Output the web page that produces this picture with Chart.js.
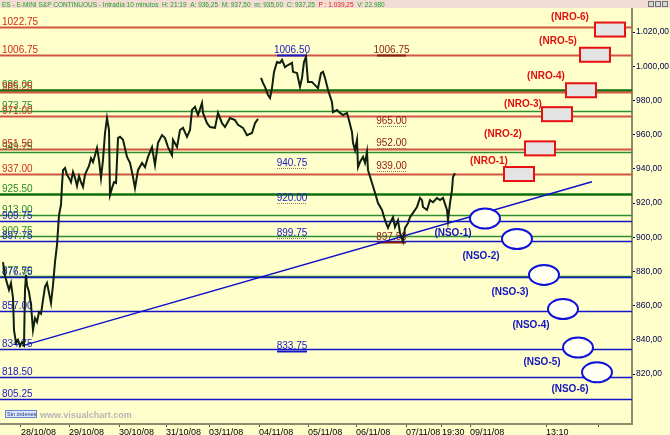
<!DOCTYPE html>
<html>
<head>
<meta charset="utf-8">
<script src="https://cdn.jsdelivr.net/npm/chart.js@4.4.0/dist/chart.umd.min.js"></script>
<style>
  html, body { margin: 0; padding: 0; background: #ffffcc; }
  #wrap { width: 670px; height: 435px; }
</style>
</head>
<body>
<div id="wrap"><canvas id="esChart" width="670" height="435"></canvas></div>
<script>
// 10 minute bars, x = bar slot on the time axis
const bars = [
  3, 5, 7, 9, 11, 13, 14, 16, 18, 20,
  22, 24, 25, 26, 27, 29, 31, 33, 35, 37,
  39, 41, 43, 45, 47, 49, 51, 53, 55, 57,
  59, 61, 62, 63, 65, 67, 69, 71, 73, 75,
  77, 79, 81, 83, 85, 87, 89, 91, 93, 95,
  97, 99, 101, 103, 105, 107, 109, 110, 112, 114,
  116, 118, 120, 123, 127, 130, 133, 135, 138, 142,
  145, 148, 152, 155, 158, 162, 165, 168, 172, 173,
  177, 180, 183, 187, 190, 192, 195, 198, 202, 203,
  207, 210, 215, 218, 222, 225, 230, 235, 238, 243,
  247, 252, 255, 258, 259.5,
  261, 263, 265, 268, 270, 272, 274, 277, 280, 282,
  285, 288, 292, 293, 297, 300, 302, 304, 306, 308,
  312, 315, 318, 321, 323, 325, 328, 332, 333, 337,
  340, 343, 347, 349, 352, 353, 355, 357, 358, 360,
  363, 365, 367, 368, 372, 375, 378, 382, 385, 388,
  390, 393, 395, 398, 400, 403, 405, 408, 410, 413,
  417, 420, 422, 423, 427, 430, 433, 437, 440, 443,
  447, 448, 450, 452, 453, 455
];
const closes = [
  885.5, 877.5, 873.25, 869.25, 873.25, 864.5, 845.75, 838.25, 840, 836.5,
  838.75, 837, 869.25, 878, 872, 868, 860.5, 845.75, 852.75, 850.5,
  856.25, 855.25, 863.25, 871, 873.25, 867.5, 861.5, 872, 885.5, 895.5,
  913, 919, 930.5, 939.25, 940.5, 936.5, 934.75, 932.25, 938.25, 934.75,
  930, 935.75, 932.25, 929.5, 936.5, 939.25, 941.75, 946.25, 944, 948,
  952.25, 945.25, 934.75, 945.25, 961, 969.75, 962.75, 924.75, 928.75, 932.25,
  931.75, 958, 958.75, 957, 947, 943.5, 935.25, 928.75, 939.25, 943.5,
  941, 947, 952.75, 942.25, 955.25, 959.75, 958, 952.75, 948, 957,
  952.75, 962.75, 964, 958.75, 962.75, 974.5, 976.25, 971.5, 978.5, 972.75,
  966.75, 964.5, 964, 972.75, 966.75, 964.5, 969.75, 968.5, 965.75, 964,
  959.75, 961, 966.75, 969.25, null,
  993.25, 990.25, 988, 983.25, 981.5, 987.25, 996.75, 1002.5, 1002, 1003.75,
  999.5, 1000.75, 1002, 996.75, 996, 988, 993.25, 1002.5, 1005.5, 990.75,
  990.75, 989, 987.25, 996, 996.75, 993.25, 986.25, 979, 973.25, 974.5,
  972.75, 971.5, 972.75, 968.5, 961.5, 955.25, 951, 957, 941, 944,
  947, 943.5, 950, 939.25, 931.75, 926, 920, 916, 910, 905.5,
  908.25, 911.75, 906, 910, 902.5, 897.5, 905.5, 908.25, 911.75, 914.25,
  917.75, 923, 921.75, 917.75, 916, 921.75, 920.5, 923, 921.75, 923,
  916, 910, 920, 927.75, 935.25, 937.5
];

const tickBars = [21, 69, 119, 166, 209, 259, 308, 356, 406, 442, 470, 546, 598];
const tickLabels = ["28/10/08", "29/10/08", "30/10/08", "31/10/08", "03/11/08", "04/11/08",
  "05/11/08", "06/11/08", "07/11/08", "19:30", "09/11/08", "13:10", ""];
const priceTicks = [820, 840, 860, 880, 900, 920, 940, 960, 980, 1000, 1020];

// horizontal levels
const greenLevels = [973.75, 949.75, 913.00, 900.75, 877.50];
const greenMajor = [986.00, 925.50];
const redLevels = [1022.75, 1006.75, 985.25, 971.00, 951.50, 937.00];
const blueLevels = [909.75, 897.75, 876.75, 857.00, 834.75, 818.50, 805.25];

// trend line
const trendBars = [22, 592];
const trendValues = [836.5, 932.5];

// marks in the middle
const blueColBars = [277, 307];
const redColBars = [377, 406];
const blueHighLow = [1006.50, 833.75];
const blueMarks = [940.75, 920.00, 899.75];
const redHighLow = [1006.75, 897.50];
const redMarks = [965.00, 952.00, 939.00];

// resistance targets
const nroNames = ["(NRO-1)", "(NRO-2)", "(NRO-3)", "(NRO-4)", "(NRO-5)", "(NRO-6)"];
const nroBars = [519, 540, 557, 581, 595, 610];
const nroValues = [937, 952, 972, 986, 1006.75, 1021.5];
const nroLabelBars = [489, 503, 523, 546, 558, 570];
const nroLabelValues = [944.5, 960.5, 978, 994.25, 1014.75, 1028.75];

// support targets
const nsoNames = ["(NSO-1)", "(NSO-2)", "(NSO-3)", "(NSO-4)", "(NSO-5)", "(NSO-6)"];
const nsoBars = [485, 517, 544, 563, 578, 597];
const nsoValues = [911, 899, 878, 858, 835.5, 821];
const nsoLabelBars = [453, 481, 510, 531, 542, 570];
const nsoLabelValues = [902.5, 889, 867.75, 848.5, 827, 811];

const FONT = "'Liberation Sans', Arial, sans-serif";

function fmtEs(v) {
  const s = v.toFixed(2).split(".");
  return s[0].replace(/\B(?=(\d{3})+(?!\d))/g, ".") + "," + s[1];
}

const bgPlugin = {
  id: "bg",
  beforeDraw(chart) {
    const ctx = chart.ctx;
    ctx.save();
    ctx.fillStyle = "#ffffcc";
    ctx.fillRect(0, 0, chart.width, chart.height);
    ctx.restore();
  }
};

const levelsPlugin = {
  id: "levels",
  beforeDatasetsDraw(chart) {
    const { ctx, chartArea: a, scales: { x, y } } = chart;
    ctx.save();
    ctx.beginPath();
    ctx.rect(a.left, a.top, a.right - a.left, a.bottom - a.top);
    ctx.clip();

    const drawGroup = (vals, lineColor, width) => {
      vals.forEach(v => {
        const py = Math.round(y.getPixelForValue(v)) + 0.5;
        ctx.strokeStyle = lineColor;
        ctx.lineWidth = width;
        ctx.beginPath();
        ctx.moveTo(a.left, py);
        ctx.lineTo(a.right, py);
        ctx.stroke();
      });
    };
    const labelGroup = (vals, textColor) => {
      ctx.font = "10px " + FONT;
      ctx.textAlign = "left";
      ctx.textBaseline = "alphabetic";
      ctx.fillStyle = textColor;
      vals.forEach(v => {
        const py = y.getPixelForValue(v);
        ctx.fillText(v.toFixed(2), a.left + 2, py - 2);
      });
    };

    drawGroup(greenLevels, "#2e8e2e", 1.5);
    drawGroup(greenMajor, "#0b700b", 2.5);
    drawGroup(redLevels, "#d25540", 2);
    drawGroup(blueLevels, "#1414c8", 1.5);

    labelGroup(greenLevels.concat(greenMajor), "#2a8a2a");
    labelGroup(redLevels, "#d02a1a");
    labelGroup(blueLevels, "#1a1ac4");

    // middle marks
    const colMark = (vals, cols, color, solid) => {
      const x0 = x.getPixelForValue(cols[0]);
      const x1 = x.getPixelForValue(cols[1]);
      vals.forEach(v => {
        const py = Math.round(y.getPixelForValue(v)) + 0.5;
        ctx.save();
        if (solid) {
          ctx.strokeStyle = color;
          ctx.lineWidth = 2;
        } else {
          ctx.strokeStyle = "#8a7658";
          ctx.lineWidth = 1;
          ctx.setLineDash([1, 1]);
        }
        ctx.beginPath();
        ctx.moveTo(x0, py);
        ctx.lineTo(x1, py);
        ctx.stroke();
        ctx.restore();
        ctx.font = "10px " + FONT;
        ctx.textAlign = "center";
        ctx.fillStyle = color;
        ctx.fillText(v.toFixed(2), (x0 + x1) / 2, py - 3);
      });
    };
    colMark(blueHighLow, blueColBars, "#1818c8", true);
    colMark(blueMarks, blueColBars, "#1818c8", false);
    colMark(redHighLow, redColBars, "#8b1a10", true);
    colMark(redMarks, redColBars, "#8b1a10", false);

    ctx.restore();
  }
};

const targetsPlugin = {
  id: "targets",
  afterDatasetsDraw(chart) {
    const { ctx, scales: { x, y } } = chart;
    ctx.save();
    // NRO boxes
    nroBars.forEach((b, i) => {
      const cx = x.getPixelForValue(b);
      const cy = y.getPixelForValue(nroValues[i]);
      ctx.fillStyle = "#e4e4e4";
      ctx.fillRect(cx - 15, cy - 7, 30, 14);
      ctx.strokeStyle = "#e81010";
      ctx.lineWidth = 2;
      ctx.strokeRect(cx - 15, cy - 7, 30, 14);
    });
    ctx.font = "bold 10px " + FONT;
    ctx.textAlign = "center";
    ctx.textBaseline = "middle";
    ctx.fillStyle = "#e01010";
    nroNames.forEach((t, i) => {
      ctx.fillText(t, x.getPixelForValue(nroLabelBars[i]), y.getPixelForValue(nroLabelValues[i]));
    });
    // NSO ellipses
    nsoBars.forEach((b, i) => {
      const cx = x.getPixelForValue(b);
      const cy = y.getPixelForValue(nsoValues[i]);
      ctx.beginPath();
      ctx.ellipse(cx, cy, 15, 10, 0, 0, Math.PI * 2);
      ctx.fillStyle = "#fffff2";
      ctx.fill();
      ctx.strokeStyle = "#1010dc";
      ctx.lineWidth = 2;
      ctx.stroke();
    });
    ctx.fillStyle = "#1414c0";
    nsoNames.forEach((t, i) => {
      ctx.fillText(t, x.getPixelForValue(nsoLabelBars[i]), y.getPixelForValue(nsoLabelValues[i]));
    });
    ctx.restore();
  },
  afterDraw(chart) {
    const { ctx } = chart;
    ctx.save();
    // header strip
    ctx.fillStyle = "#f3dcd3";
    ctx.fillRect(0, 0, chart.width, 8);
    ctx.font = "6.5px " + FONT;
    ctx.textBaseline = "alphabetic";
    ctx.textAlign = "left";
    let hx = 2;
    const part = (t, c) => { ctx.fillStyle = c; ctx.fillText(t, hx, 7); hx += ctx.measureText(t).width; };
    part("ES - E-MINI S&P CONTINUOUS - Intradía 10 minutos  H: 21:19  A: 936,25  M: 937,50  m: 935,00  C: 937,25  ", "#22a022");
    part("P : 1.039,25", "#e02020");
    part("  V: 22.980", "#22a022");
    // window buttons
    [648, 655, 662].forEach(bx => {
      ctx.fillStyle = "#d8d8d8";
      ctx.fillRect(bx, 1, 6, 6);
      ctx.strokeStyle = "#707070";
      ctx.lineWidth = 1;
      ctx.strokeRect(bx + 0.5, 1.5, 5, 5);
    });
    // footer marks
    ctx.fillStyle = "#dde6ff";
    ctx.fillRect(5, 410, 32, 8);
    ctx.strokeStyle = "#6a86c8";
    ctx.strokeRect(5.5, 410.5, 31, 7);
    ctx.fillStyle = "#203080";
    ctx.font = "5.5px " + FONT;
    ctx.fillText("Sin órdenes", 7, 416);
    ctx.fillStyle = "#b4b4b4";
    ctx.font = "bold 9px " + FONT;
    ctx.fillText("www.visualchart.com", 40, 418);
    ctx.restore();
  }
};

const ctx = document.getElementById("esChart").getContext("2d");
const esChart = new Chart(ctx, {
  type: "line",
  data: {
    datasets: [
      {
        label: "ES",
        data: bars.map((b, i) => ({ x: b, y: closes[i] })),
        borderColor: "#0f200f",
        borderWidth: 2,
        pointRadius: 0,
        tension: 0,
        spanGaps: false
      },
      {
        label: "trend",
        data: trendBars.map((b, i) => ({ x: b, y: trendValues[i] })),
        borderColor: "#1010c8",
        borderWidth: 1.5,
        pointRadius: 0
      }
    ]
  },
  options: {
    responsive: false,
    animation: false,
    events: [],
    layout: { padding: { top: 8, left: 0, right: 0, bottom: 0 } },
    plugins: { legend: { display: false }, tooltip: { enabled: false } },
    scales: {
      x: {
        type: "linear",
        min: 0,
        max: 632,
        afterBuildTicks: s => { s.ticks = tickBars.map(v => ({ value: v })); },
        afterFit: s => { s.height = 11; },
        ticks: {
          autoSkip: false,
          maxRotation: 0,
          minRotation: 0,
          align: "start",
          padding: 0,
          color: "#000000",
          font: { family: FONT, size: 9 },
          callback: (v, i) => tickLabels[i]
        },
        grid: { drawOnChartArea: false, drawTicks: true, tickLength: 3, color: "#505050" },
        border: { display: true, color: "#8c8c6c", width: 2 }
      },
      y: {
        position: "right",
        min: 790.8,
        max: 1034.1,
        afterBuildTicks: s => { s.ticks = priceTicks.map(v => ({ value: v })); },
        afterFit: s => { s.width = 38; },
        ticks: {
          padding: 1,
          color: "#000050",
          font: { family: FONT, size: 8.5 },
          callback: v => fmtEs(v)
        },
        grid: { drawOnChartArea: false, drawTicks: true, tickLength: 3, color: "#000050" },
        border: { display: true, color: "#8c8c6c", width: 2 }
      }
    }
  },
  plugins: [bgPlugin, levelsPlugin, targetsPlugin]
});
</script>
</body>
</html>
